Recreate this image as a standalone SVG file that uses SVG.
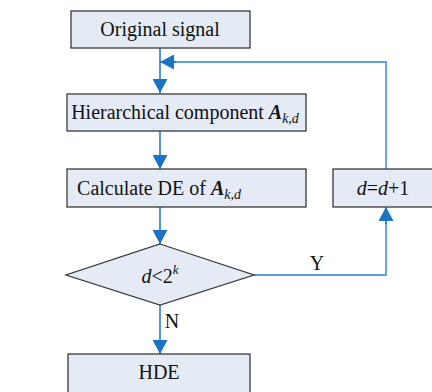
<svg xmlns="http://www.w3.org/2000/svg" width="432" height="392" viewBox="0 0 432 392">
<style>
.box{fill:#e4ebf5;stroke:#3a3a3a;stroke-width:1.3}
.t{font-family:"Liberation Serif","Times New Roman",serif;font-size:20px;fill:#111;text-anchor:middle}
.ln{stroke:#1a73c5;stroke-width:1.5;fill:none}
.lt{stroke:#5d9fd8;stroke-width:1.8;fill:none}
</style>
<defs>
<marker id="ah" viewBox="0 0 14 15" refX="14" refY="7.5" markerWidth="14" markerHeight="15" markerUnits="userSpaceOnUse" orient="auto">
<path d="M0,0 L14,7.5 L0,15 Z" fill="#1a73c5"/>
</marker>
</defs>
<rect width="432" height="392" fill="#fff"/>
<g id="connectors">
<path class="ln" d="M160,48 V93" marker-end="url(#ah)"/>
<path class="ln" d="M160,131 V169" marker-end="url(#ah)"/>
<path class="ln" d="M160,207 V244" marker-end="url(#ah)"/>
<path class="ln" d="M160,305 V354" marker-end="url(#ah)"/>
<path class="lt" d="M254,275 H386 V222"/>
<path class="ln" d="M386,224 V207" marker-end="url(#ah)"/>
<path class="lt" d="M386,169 V62 H174"/>
<path class="ln" d="M176,62 H160" marker-end="url(#ah)"/>
<text class="t" x="317" y="270">Y</text>
<text class="t" x="172" y="328">N</text>
</g>
<g id="n1"><rect class="box" x="71" y="11" width="179" height="37"/><text class="t" x="160" y="36">Original signal</text></g>
<g id="n2"><rect class="box" x="67" y="94" width="239" height="37"/><text class="t" x="185" y="119">Hierarchical component <tspan font-weight="bold" font-style="italic">A</tspan><tspan font-style="italic" font-size="14" dy="4">k,d</tspan></text></g>
<g id="n3"><rect class="box" x="67" y="169" width="239" height="38"/><text class="t" x="159" y="195">Calculate DE of <tspan font-weight="bold" font-style="italic">A</tspan><tspan font-style="italic" font-size="14" dy="4">k,d</tspan></text></g>
<g id="n4"><path class="box" d="M160,244 L254,275 L160,305 L66,275 Z"/><text class="t" x="160" y="283"><tspan font-style="italic">d</tspan>&lt;2<tspan font-style="italic" font-size="13" dy="-9">k</tspan></text></g>
<g id="n5"><rect class="box" x="68" y="354" width="182" height="45"/><text class="t" x="159" y="379">HDE</text></g>
<g id="n6"><rect class="box" x="333" y="169" width="110" height="38"/><text class="t" x="383" y="195"><tspan font-style="italic">d</tspan>=<tspan font-style="italic">d</tspan>+1</text></g>
</svg>
